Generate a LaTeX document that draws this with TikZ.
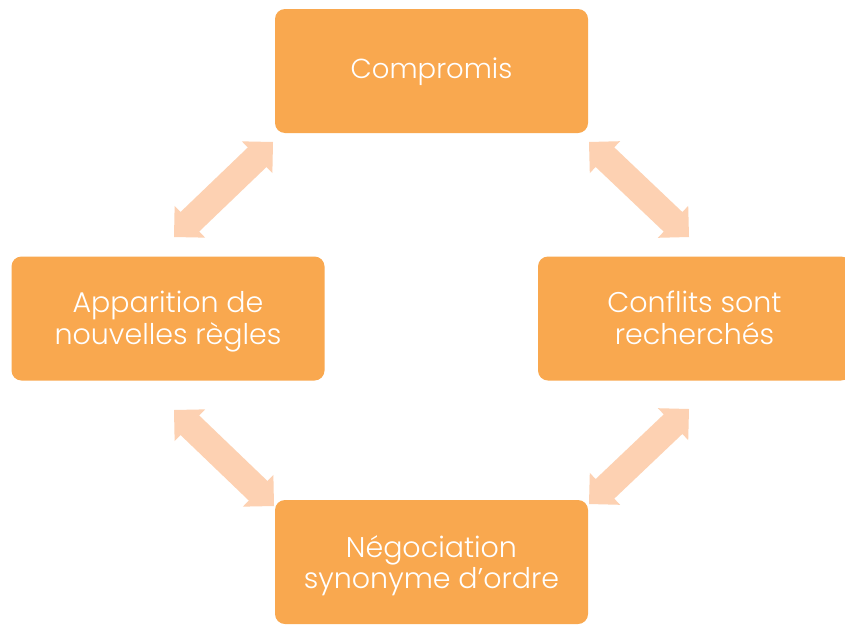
\documentclass[tikz,border=0pt]{standalone}
\usepackage{fontspec}
\setmainfont{Poppins Light}
\usetikzlibrary{calc}
\definecolor{boxfill}{HTML}{F9A84F}
\definecolor{arrowfill}{HTML}{FDD1B2}
\tikzset{
  stagebox/.style={fill=boxfill, draw=none, rounded corners=10pt, minimum width=313pt, minimum height=124pt,
    text=white, align=center, inner sep=0pt, font=\fontsize{28.5}{31.5}\selectfont},
}
% two-line label with fixed struts: #1 strut height, #2 first line, #3 second line
\newcommand\twolines[3]{\rule{0pt}{#1}#2\\#3\rule[-8pt]{0pt}{8pt}}
\newcommand\dblblock[2]{%
  \coordinate (ha) at ($(#1)!22pt!(#2)$);
  \coordinate (hb) at ($(#2)!22pt!(#1)$);
  \fill[arrowfill] (#1)
    -- ($(ha)!22pt!90:(#2)$) -- ($(ha)!13.5pt!90:(#2)$)
    -- ($(hb)!13.5pt!-90:(#1)$) -- ($(hb)!22pt!-90:(#1)$)
    -- (#2)
    -- ($(hb)!22pt!90:(#1)$) -- ($(hb)!13.5pt!90:(#1)$)
    -- ($(ha)!13.5pt!-90:(#2)$) -- ($(ha)!22pt!-90:(#2)$)
    -- cycle;
}
\begin{document}
\begin{tikzpicture}[x=1pt,y=-1pt]
\useasboundingbox (0,0) rectangle (845,624);
\clip (0,0) rectangle (845,624);
\fill[white] (0,0) rectangle (845,624);
\node[stagebox, font=\fontsize{27.5}{30}\selectfont] (ncomp) at (431.5,71) {\rule[-8pt]{0pt}{31pt}Compromis};
\node[stagebox] (napp) at (168,318.5) {\twolines{28pt}{Apparition de}{nouvelles règles}};
\node[stagebox] (nconf) at (694.5,318.5) {\twolines{28pt}{Conflits sont}{recherchés}};
\node[stagebox, font=\fontsize{28.5}{30.5}\selectfont] (nneg) at (431.5,562) {\twolines{30pt}{Négociation}{synonyme d’ordre}};
\coordinate (tl1) at (174,237); \coordinate (tl2) at (273,142);
\coordinate (tr1) at (589,142); \coordinate (tr2) at (689,237);
\coordinate (bl1) at (174,410); \coordinate (bl2) at (274,506);
\coordinate (br1) at (589,504); \coordinate (br2) at (689,409);
\dblblock{tl1}{tl2}
\dblblock{tr1}{tr2}
\dblblock{bl1}{bl2}
\dblblock{br1}{br2}
\end{tikzpicture}
\end{document}
